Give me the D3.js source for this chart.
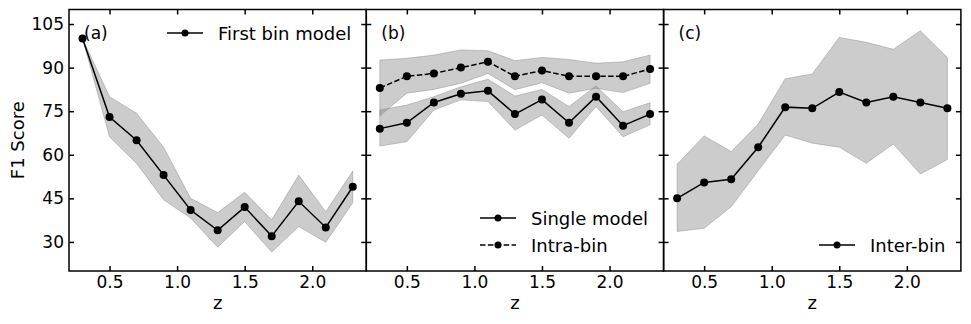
<!DOCTYPE html>
<meta charset="utf-8">
<head>
  <title>F1 score vs z</title>
</head>
<style>
body {
  margin: 0;
  background: #fff;
  font-family: "DejaVu Sans", sans-serif;
}
</style>
<body>
  <div id="content"></div>
  <script src="https://cdnjs.cloudflare.com/ajax/libs/d3/7.8.5/d3.min.js"></script>
  <script>

// data
var z = [0.3, 0.5, 0.7, 0.9, 1.1, 1.3, 1.5, 1.7, 1.9, 2.1, 2.3];

var firstBin      = [100, 73, 65, 53, 41, 34, 42, 32, 44, 35, 49];
var firstBinUpper = [100, 80, 74.3, 62.6, 45, 40.1, 47.1, 37.6, 53, 40.4, 54.4];
var firstBinLower = [100, 66.2, 57, 44.5, 38.2, 28.2, 37, 26.5, 35.3, 29.9, 43.5];

var single      = [69, 71, 78, 81, 82, 74, 79, 71, 80, 70, 74];
var singleUpper = [75.4, 77.1, 80, 83.4, 86, 80.2, 82.5, 76.6, 83.7, 74.8, 77.9];
var singleLower = [63, 64.5, 75.4, 78.9, 78.3, 68.5, 73.7, 65.7, 76.6, 66.2, 70.3];

var intra      = [83, 87, 88, 90, 92, 87, 89, 87, 87, 87, 89.5];
var intraUpper = [92.6, 93.2, 94.3, 96.1, 95.8, 92.4, 93.5, 92.8, 91.5, 92, 94.3];
var intraLower = [73.4, 81.2, 82.5, 84.6, 88, 82.4, 84.8, 81.2, 82.9, 81.4, 84.6];

var inter      = [45, 50.5, 51.6, 62.6, 76.4, 76, 81.6, 78, 80, 78, 76];
var interUpper = [56.7, 66.5, 61.1, 70.6, 86.2, 87.8, 100.4, 98.7, 96.3, 102.7, 93.5];
var interLower = [33.6, 34.7, 42.1, 54.5, 66.8, 64, 62.6, 57.1, 63.7, 53.4, 58.4];

var yTicks = [30, 45, 60, 75, 90, 105];
var xTicks = [0.5, 1.0, 1.5, 2.0];

var panels = [
  {tag: '(a)', series: [{name: 'First bin model', y: firstBin, hi: firstBinUpper, lo: firstBinLower, dash: null}],
   legend: {x: 167, y: 33}},
  {tag: '(b)', series: [
    {name: 'Single model', y: single, hi: singleUpper, lo: singleLower, dash: null},
    {name: 'Intra-bin', y: intra, hi: intraUpper, lo: intraLower, dash: '5.5,2.4'}],
   legend: {x: 480, y: 218}},
  {tag: '(c)', series: [{name: 'Inter-bin', y: inter, hi: interUpper, lo: interLower, dash: null}],
   legend: {x: 819, y: 245}}
];

var W = 971, H = 324;
var plotTop = 9.5, plotBottom = 271, pw = 297.3, left0 = 69;

var svg = d3.select('#content').append('svg')
  .attr('width', W).attr('height', H);

var y = d3.scaleLinear().domain([20, 110]).range([plotBottom, plotTop]);

panels.forEach(function(p, i) {
  var x0 = left0 + i * pw;
  var x = d3.scaleLinear().domain([0.2, 2.4]).range([x0, x0 + pw]);
  var g = svg.append('g');

  // shaded bands
  p.series.forEach(function(s) {
    var area = d3.area()
      .x(function(d, j) { return x(z[j]); })
      .y0(function(d, j) { return y(s.lo[j]); })
      .y1(function(d, j) { return y(s.hi[j]); });
    g.append('path')
      .attr('d', area(z))
      .attr('fill', '#808080')
      .attr('fill-opacity', 0.4)
      .attr('stroke', '#808080')
      .attr('stroke-opacity', 0.4)
      .attr('stroke-width', 1);
  });

  // lines and markers
  p.series.forEach(function(s) {
    var line = d3.line()
      .x(function(d, j) { return x(z[j]); })
      .y(function(d) { return y(d); });
    g.append('path')
      .attr('d', line(s.y))
      .attr('fill', 'none')
      .attr('stroke', '#000')
      .attr('stroke-width', 1.5)
      .attr('stroke-dasharray', s.dash);
    g.selectAll(null).data(s.y).enter().append('circle')
      .attr('cx', function(d, j) { return x(z[j]); })
      .attr('cy', function(d) { return y(d); })
      .attr('r', 4)
      .attr('fill', '#000');
  });

  // axes, ticks inward on all sides
  var ax = function(axis, tf, labels) {
    var a = g.append('g').attr('transform', tf)
      .call(axis.tickSizeInner(-5).tickSizeOuter(0).tickPadding(5));
    a.select('.domain').remove();
    a.selectAll('line').attr('stroke', '#000').attr('stroke-width', 1.5);
    a.selectAll('text').attr('font-size', 17).attr('fill', '#000')
      .attr('font-family', '"DejaVu Sans", sans-serif');
    if (!labels) a.selectAll('text').remove();
    return a;
  };
  ax(d3.axisBottom(x).tickValues(xTicks).tickFormat(d3.format('.1f')), 'translate(0,' + plotBottom + ')', true);
  ax(d3.axisTop(x).tickValues(xTicks), 'translate(0,' + plotTop + ')', false);
  ax(d3.axisLeft(y).tickValues(yTicks), 'translate(' + x0 + ',0)', i === 0);
  ax(d3.axisRight(y).tickValues(yTicks), 'translate(' + (x0 + pw) + ',0)', false);

  g.append('rect')
    .attr('x', x0).attr('y', plotTop)
    .attr('width', pw).attr('height', plotBottom - plotTop)
    .attr('fill', 'none').attr('stroke', '#000').attr('stroke-width', 1.5);

  g.append('text')
    .attr('x', x0 + pw / 2).attr('y', 309)
    .attr('text-anchor', 'middle')
    .attr('font-size', 18)
    .text('z');

  g.append('text')
    .attr('x', x0 + 15).attr('y', 39)
    .attr('font-size', 17)
    .text(p.tag);

  // legend
  p.series.forEach(function(s, k) {
    var ly = p.legend.y + k * 27;
    g.append('line')
      .attr('x1', p.legend.x).attr('x2', p.legend.x + 36)
      .attr('y1', ly).attr('y2', ly)
      .attr('stroke', '#000').attr('stroke-width', 1.5)
      .attr('stroke-dasharray', s.dash);
    g.append('circle')
      .attr('cx', p.legend.x + 18).attr('cy', ly).attr('r', 3.5)
      .attr('fill', '#000');
    g.append('text')
      .attr('x', p.legend.x + 51).attr('y', ly + 6.5)
      .attr('font-size', 18)
      .text(s.name);
  });
});

svg.append('text')
  .attr('transform', 'translate(24,' + (plotTop + plotBottom) / 2 + ') rotate(-90)')
  .attr('text-anchor', 'middle')
  .attr('font-size', 18)
  .attr('font-family', '"DejaVu Sans", sans-serif')
  .text('F1 Score');

</script>
</body>
</html>
